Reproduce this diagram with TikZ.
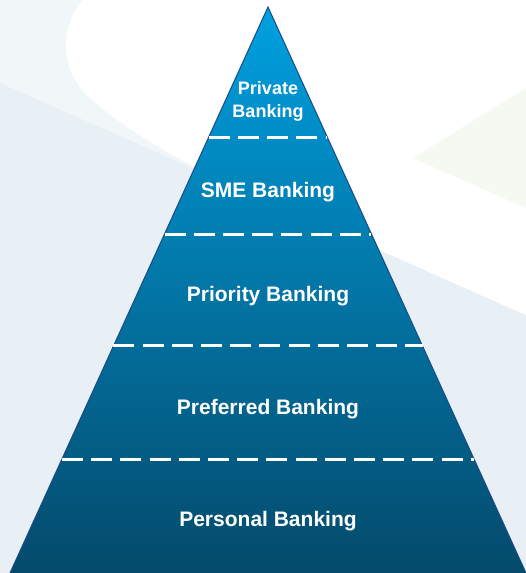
\documentclass[tikz,border=0pt]{standalone}
\usepackage{fontspec}
\setmainfont{Liberation Sans}
\usepackage{xcolor}
\usetikzlibrary{calc}

\definecolor{bgGray}{HTML}{E8F0F5}
\definecolor{bgLight}{HTML}{F1F6F9}
\definecolor{bgGreen}{HTML}{F4F9F2}
\definecolor{pyrTop}{HTML}{00A0E0}
\definecolor{pyrMid}{HTML}{0A7CB1}
\definecolor{pyrBottom}{HTML}{044A6B}
\definecolor{pyrEdge}{HTML}{1B4A86}

\begin{document}
\begin{tikzpicture}[x=1pt,y=-1pt,
    tier/.style={text=white,font=\bfseries\fontsize{21}{25}\selectfont,align=center},
    divider/.style={draw=white,line width=3pt,dash pattern=on 21pt off 8.2pt}]
    \useasboundingbox (0,0) rectangle (526,573);
    % backdrop: pale band, white swoosh and faint green wedge
    \fill[bgGray] (0,0) rectangle (526,573);
    \fill[bgLight] (0,0) -- (526,0) -- (526,315) -- (0,83) -- cycle;
    \fill[white] (83,0) .. controls (60,25) and (58,70) .. (90,98)
        .. controls (120,125) and (160,150) .. (215,177) -- (526,315) -- (526,0) -- cycle;
    \fill[bgGreen] (413,158) -- (526,88) -- (526,208) -- cycle;

    % pyramid
    \coordinate (apex) at (268,7);
    \coordinate (baseL) at (10,573);
    \coordinate (baseR) at (526,573);
    \shade[top color=pyrTop,middle color=pyrMid,bottom color=pyrBottom]
        (apex) -- (baseL) -- (baseR) -- cycle;
    \draw[pyrEdge,line width=1pt] (baseL) -- (apex) -- (baseR);

    % dashed lines between the tiers
    \foreach \f in {0.2297,0.4011,0.5989,0.7986}
        \draw[divider] ($(apex)!\f!(baseL)$) -- ($(apex)!\f!(baseR)$);

    \node[tier,font=\bfseries\fontsize{18}{23}\selectfont] (private) at (268,101) {Private\\Banking};
    \node[tier] (sme) at (268,192.5) {SME Banking};
    \node[tier] (priority) at (268,296.5) {Priority Banking};
    \node[tier] (preferred) at (268,409.5) {Preferred Banking};
    \node[tier] (personal) at (268,521.5) {Personal Banking};
\end{tikzpicture}
\end{document}
